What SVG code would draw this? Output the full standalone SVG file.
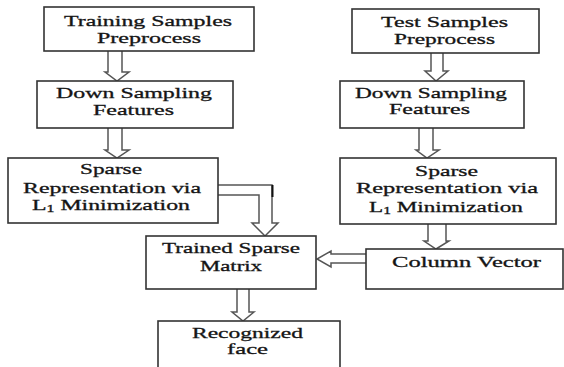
<svg xmlns="http://www.w3.org/2000/svg" width="564" height="367" viewBox="0 0 564 367">
<style>
.box{fill:#fff;stroke:#333;stroke-width:1.6}
.arr{fill:#fff;stroke:#555;stroke-width:1.5;stroke-linejoin:miter}
text{font-family:"Liberation Serif","Times New Roman",serif;font-size:15px;fill:#151515;stroke:#151515;stroke-width:0.3}
.sub{font-size:10px}
</style>
<rect width="564" height="367" fill="#fff"/>
<g id="connectors">
<path class="arr" d="M108,51 V72 H105 L117,81 L129,72 H122 V51"/>
<path class="arr" d="M108,128 V150 H105 L117,158 L129,150 H122 V128"/>
<path class="arr" d="M431,53 V71 H425 L436,81 L448,71 H443 V53"/>
<path class="arr" d="M419,128 V150 H416 L427,158 L439,150 H433 V128"/>
<path class="arr" d="M428,224 V241 H424 L436,249 L449,241 H446 V224"/>
<path class="arr" d="M237,289 V312 H232 L243,321 L254,312 H249 V289"/>
<path class="arr" d="M366,254 H331 V251 L317,259 L331,267 V263 H366"/>
<path class="arr" d="M218,185 H272 V223 H278 L265,236 L252,223 H259 V195 H218"/>
<line x1="272.5" y1="185" x2="272.5" y2="197" stroke="#111" stroke-width="2"/>
</g>
<g id="train-pre">
<rect class="box" x="44" y="7" width="210" height="44"/>
<text x="64" y="26" textLength="168" lengthAdjust="spacingAndGlyphs">Training Samples</text>
<text x="97" y="43" textLength="104" lengthAdjust="spacingAndGlyphs">Preprocess</text>
</g>
<g id="train-down">
<rect class="box" x="37" y="81" width="196" height="47"/>
<text x="56" y="98" textLength="156" lengthAdjust="spacingAndGlyphs">Down Sampling</text>
<text x="93" y="115" textLength="81" lengthAdjust="spacingAndGlyphs">Features</text>
</g>
<g id="train-sparse">
<rect class="box" x="8" y="158" width="210" height="65"/>
<text x="80" y="174" textLength="62" lengthAdjust="spacingAndGlyphs">Sparse</text>
<text x="23" y="193" textLength="178" lengthAdjust="spacingAndGlyphs">Representation via</text>
<text x="32" y="210" textLength="158" lengthAdjust="spacingAndGlyphs">L<tspan class="sub" dy="2">1</tspan><tspan dy="-2"> Minimization</tspan></text>
</g>
<g id="test-pre">
<rect class="box" x="352" y="9" width="187" height="44"/>
<text x="381" y="27" textLength="127" lengthAdjust="spacingAndGlyphs">Test Samples</text>
<text x="394" y="44" textLength="101" lengthAdjust="spacingAndGlyphs">Preprocess</text>
</g>
<g id="test-down">
<rect class="box" x="340" y="81" width="184" height="47"/>
<text x="355" y="98" textLength="152" lengthAdjust="spacingAndGlyphs">Down Sampling</text>
<text x="389" y="114" textLength="81" lengthAdjust="spacingAndGlyphs">Features</text>
</g>
<g id="test-sparse">
<rect class="box" x="340" y="158" width="216" height="66"/>
<text x="415" y="176" textLength="63" lengthAdjust="spacingAndGlyphs">Sparse</text>
<text x="356" y="193" textLength="182" lengthAdjust="spacingAndGlyphs">Representation via</text>
<text x="369" y="212" textLength="154" lengthAdjust="spacingAndGlyphs">L<tspan class="sub" dy="2">1</tspan><tspan dy="-2"> Minimization</tspan></text>
</g>
<g id="trained-matrix">
<rect class="box" x="146" y="236" width="170" height="53"/>
<text x="162" y="253" textLength="138" lengthAdjust="spacingAndGlyphs">Trained Sparse</text>
<text x="200" y="271" textLength="62" lengthAdjust="spacingAndGlyphs">Matrix</text>
</g>
<g id="column-vector">
<rect class="box" x="366" y="249" width="197" height="40"/>
<text x="392" y="267" textLength="149" lengthAdjust="spacingAndGlyphs">Column Vector</text>
</g>
<g id="recognized">
<rect class="box" x="158" y="321" width="182" height="60"/>
<text x="192" y="338" textLength="111" lengthAdjust="spacingAndGlyphs">Recognized</text>
<text x="227" y="354" textLength="41" lengthAdjust="spacingAndGlyphs">face</text>
</g>
</svg>
